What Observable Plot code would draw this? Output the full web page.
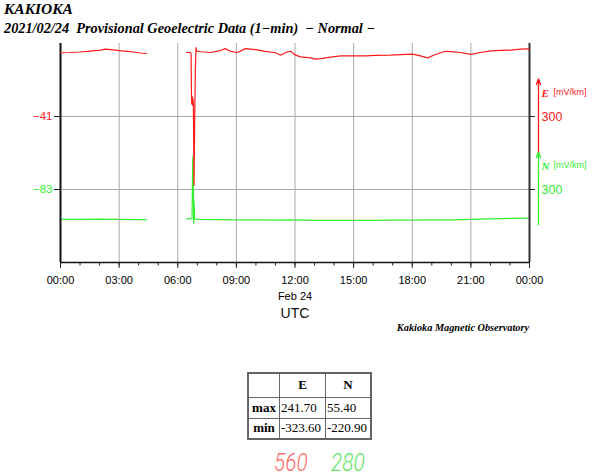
<!DOCTYPE html>
<html><head><meta charset="utf-8">
<script src="https://cdn.jsdelivr.net/npm/d3@7"></script>
<script src="https://cdn.jsdelivr.net/npm/@observablehq/plot@0.6"></script>
<style>
body{margin:0;background:#fff;width:600px;height:476px;position:relative;overflow:hidden;font-family:"Liberation Sans",Arial,sans-serif;}
#title{position:absolute;left:4px;top:0px;font:italic bold 15.5px "Liberation Serif",serif;}
#subtitle{position:absolute;left:4px;top:20px;font:italic bold 14.3px "Liberation Serif",serif;white-space:pre;}
#chart{position:absolute;left:0;top:38px;width:600px;height:290px;}
#chart svg{position:absolute;left:0;top:0;}
#credit{position:absolute;right:71px;top:322px;font:italic bold 10.3px "Liberation Serif",serif;}
#stats{position:absolute;left:247px;top:372px;border-collapse:collapse;border:2px solid #666;font:13px "Liberation Serif",serif;}
#stats td,#stats th{border:1.5px solid #666;padding:0 1px;text-align:left;font-weight:normal;}
#stats th{font-weight:bold;text-align:center;}
#stats tr:first-child{height:24px;}
#stats tr{height:21px;}
.rng{position:absolute;top:449px;font:italic 300 26px Roboto,sans-serif;line-height:26px;transform:scaleX(0.8);transform-origin:left top;}
</style></head>
<body>
<div id="title">KAKIOKA</div>
<div id="subtitle">2021/02/24  Provisional Geoelectric Data (1−min)  − Normal −</div>
<div id="chart"></div>
<div id="credit">Kakioka Magnetic Observatory</div>
<table id="stats"></table>
<script>
// ---------- data ----------
const day = "2021-02-24";
const eTimes = ["00:00","00:30","01:00","01:32","02:03","02:18","02:34","03:01","03:35","04:05","04:24","05:00",
  "06:27","06:39","06:41","06:42","06:43","06:45","06:46","06:47","06:48","06:49","06:50","06:52","06:54","06:56","06:58",
  "07:10","07:41","08:11","08:26","08:42","09:04","09:28","09:59","10:29","11:00","11:16","11:31","11:46","12:02","12:17",
  "12:47","13:03","13:19","13:49","14:20","14:50","15:06","15:37","16:07","16:53","17:40","18:01","18:25","18:47","19:11",
  "19:42","19:58","20:28","20:59","21:29","22:01","22:31","23:02","23:32","23:59"];
const eValues = [221,222,224,228,232,236,234,230,226,220,218,NaN,
  222,222,215,60,10,40,5,30,8,-150,-323.6,-60,150,241.7,228,
  225,222,230,238,227,222,238,234,227,221,211,222,227,211,204,
  200,195,197,203,208,208,208,208,210,211,214,215,208,200,214,
  227,226,222,214,222,229,231,232,236,237];
const nTimes = ["00:00","01:00","02:00","03:00","04:00","04:24","05:00",
  "06:27","06:39","06:44","06:45","06:46","06:47","06:48","06:49","06:50","06:52",
  "07:10","08:00","09:00","10:00","11:00","12:00","13:00","14:00","15:00","16:00","17:00",
  "18:00","19:00","20:00","21:00","22:00","23:00","23:59"];
const nValues = [-206,-206,-205,-206,-207,-207,NaN,
  -203,-204,-200,-60,40,55.4,-50,-220.9,-130,-205,
  -206,-207,-208,-208,-209,-208,-210,-210,-210,-209.6,-209,
  -208.5,-207.5,-208,-206,-203.4,-202,-201];
const statRows = ["max","min"];
const statE = [241.70, -323.60];
const statN = [55.40, -220.90];
const components = ["E","N"];
const unitLabel = "[mV/km]";
const scaleUnit = 300;
const rangeLabels = ["560","280"];

// ---------- derived ----------
const parse = t => new Date(`${day}T${t}:00Z`);
const eData = eTimes.map((t,i)=>({t:parse(t), v:eValues[i]}));
const nData = nTimes.map((t,i)=>({t:parse(t), v:nValues[i]}));
const t0 = new Date(`${day}T00:00:00Z`);
const t1 = d3.utcDay.offset(t0, 1);
const eC = Math.round((statE[0]+statE[1])/2);
const nC = Math.round((statN[0]+statN[1])/2);
const RED = "#ff1a1a", GREEN = "#33ee33";
const minus = d => d < 0 ? "\u2212" + Math.abs(d) : String(d);
const majors = d3.utcHours(t0, d3.utcMinute.offset(t1,1), 3);
const minors = d3.utcHours(t0, d3.utcMinute.offset(t1,1), 1);
const common = {width:600, height:290, marginLeft:60, marginRight:71, marginTop:5, marginBottom:66,
  style:{background:"transparent", fontFamily:"'Liberation Sans', Arial, sans-serif", overflow:"visible"},
  x:{type:"utc", domain:[t0,t1]}};

function sideMarks(center, color, name, data) {
  return [
    Plot.axisY([center], {anchor:"left", tickSize:6, tickPadding:2, stroke:"#222", fill:color, fontSize:11.5, tickFormat:minus, label:null}),
    Plot.axisY([center], {anchor:"right", tickSize:5, tickPadding:7, stroke:"#222", fill:color, fontSize:12.5, tickFormat:()=>String(scaleUnit), label:null}),
    Plot.arrow([0], {x1:()=>t1, x2:()=>t1, y1:()=>center-145, y2:()=>center-145+scaleUnit, dx:9, stroke:color, strokeWidth:1.3, headLength:7, headAngle:40}),
    Plot.text([name], {x:()=>t1, y:()=>center, dx:12, dy:-23, text:d=>d, textAnchor:"start", fill:color, fontFamily:"'Liberation Serif', serif", fontWeight:"bold", fontStyle:"italic", fontSize:11}),
    Plot.text([unitLabel], {x:()=>t1, y:()=>center, dx:24, dy:-24, text:d=>d, textAnchor:"start", fill:color, fontSize:9}),
    Plot.line(data, {x:"t", y:"v", stroke:color, strokeWidth:1.2})
  ];
}

const nPlot = Plot.plot({...common,
  x:{...common.x, axis:null},
  y:{domain:[nC-scaleUnit, nC+2*scaleUnit]},
  marks:[
    Plot.gridY([nC], {stroke:"#aaa", strokeOpacity:1}),
    ...sideMarks(nC, GREEN, components[1], nData)
  ]});

const ePlot = Plot.plot({...common,
  y:{domain:[eC-2*scaleUnit, eC+scaleUnit]},
  marks:[
    Plot.gridX(majors.slice(1,-1), {stroke:"#aaa", strokeOpacity:1}),
    Plot.gridY([eC], {stroke:"#aaa", strokeOpacity:1}),
    Plot.axisX(minors, {tickSize:3.5, text:null, label:null, stroke:"#222"}),
    Plot.axisX(majors, {tickSize:6, tickPadding:5, fontSize:11, lineHeight:1.4, label:null, stroke:"#222",
      tickFormat:d => d3.utcFormat("%H:%M")(d) + (d.getUTCHours()===12 ? "\n" + d3.utcFormat("%b %d")(d) : "")}),
    Plot.ruleY([eC-2*scaleUnit], {stroke:"#111", strokeWidth:1.5}),
    Plot.ruleX([t0], {stroke:"#111", strokeWidth:2}),
    Plot.ruleX([t1], {stroke:"#333", strokeWidth:2}),
    Plot.text(["UTC"], {frameAnchor:"bottom", dy:55, text:d=>d, fontSize:14, fill:"#111"}),
    ...sideMarks(eC, RED, components[0], eData)
  ]});

const chart = document.getElementById("chart");
chart.appendChild(nPlot);
chart.appendChild(ePlot);

// table
const tbl = document.getElementById("stats");
let html = `<tr><th style="width:28px"></th><th style="width:43px">${components[0]}</th><th style="width:42px">${components[1]}</th></tr>`;
statRows.forEach((r,i)=>{ html += `<tr><th>${r}</th><td>${statE[i].toFixed(2)}</td><td>${statN[i].toFixed(2)}</td></tr>`; });
tbl.innerHTML = html;
// range labels
[[rangeLabels[0], 274, "#ff6b6b"], [rangeLabels[1], 331, "#5fe85f"]].forEach(([t,l,c])=>{
  const d = document.createElement("div"); d.className="rng"; d.style.left=l+"px"; d.style.color=c; d.textContent=t; document.body.appendChild(d);
});
</script>
</body></html>
